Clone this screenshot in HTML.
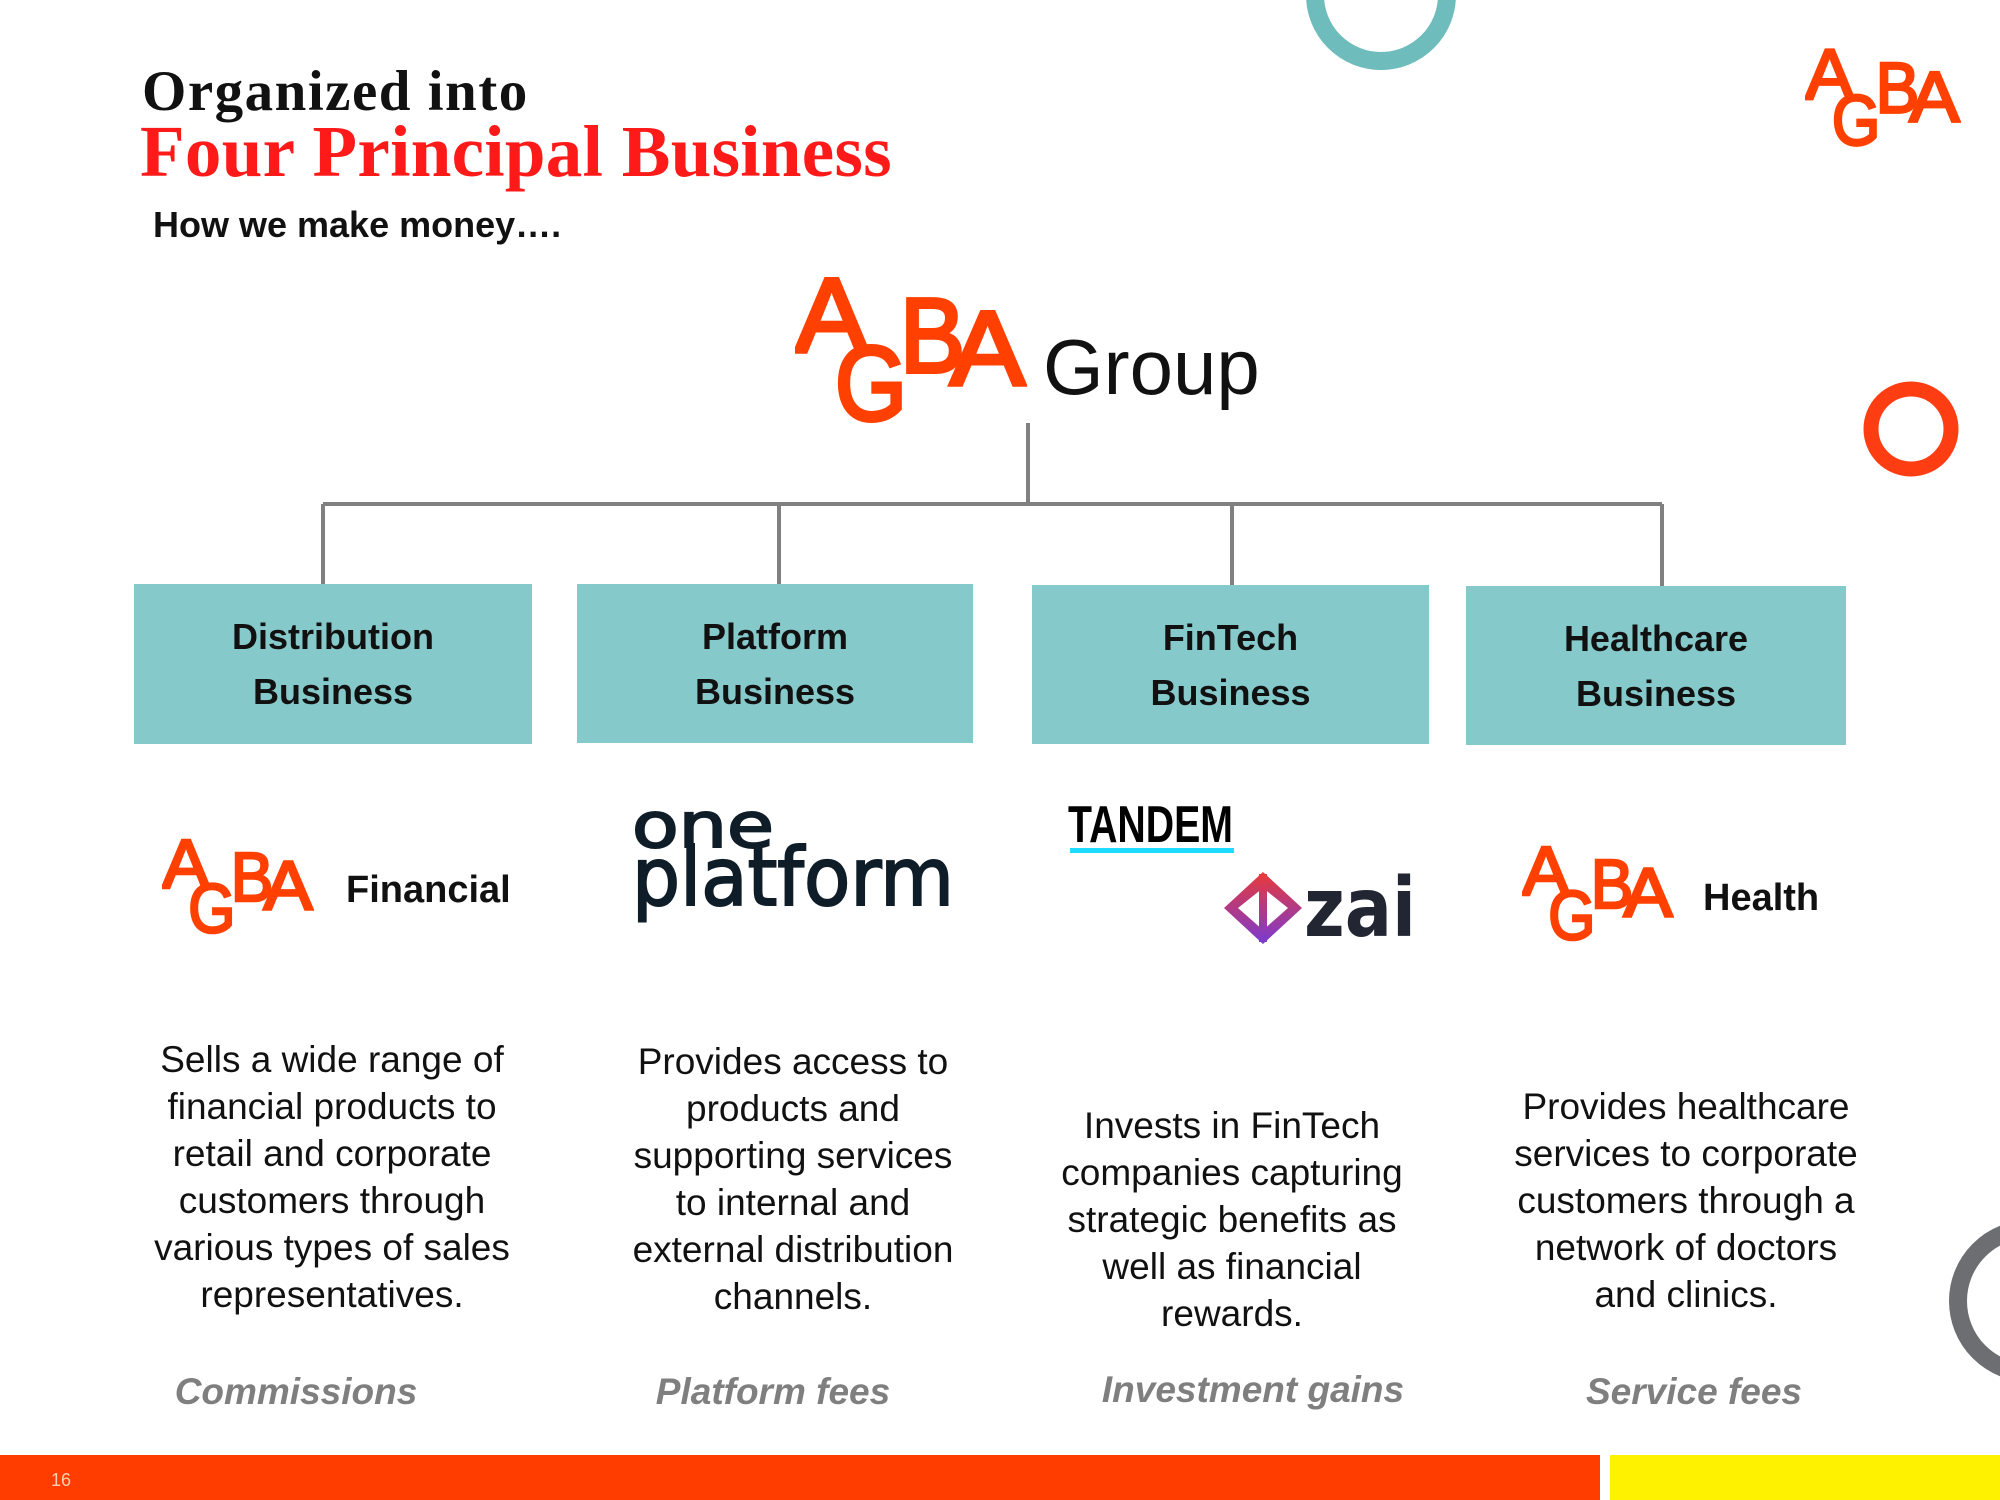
<!DOCTYPE html>
<html><head><meta charset="utf-8"><style>
body{margin:0;width:2000px;height:1500px;position:relative;overflow:hidden;background:#fff;font-family:"Liberation Sans",sans-serif}
.a{position:absolute}
.box{position:absolute;background:#86C9CB;display:flex;align-items:center;justify-content:center;text-align:center;font-weight:bold;font-size:36px;line-height:55px;color:#111}
.desc{position:absolute;width:460px;text-align:center;font-size:37px;line-height:47px;color:#111;white-space:nowrap}
.fee{position:absolute;width:420px;text-align:center;font-size:37px;font-weight:bold;font-style:italic;color:#7f7f7f}
</style></head><body>
<svg class="a" style="left:0;top:0" width="2000" height="1500">
<circle cx="1381" cy="-5" r="66" fill="none" stroke="#6fbcbc" stroke-width="18"/>
<circle cx="1911" cy="429" r="40" fill="none" stroke="#ff3d12" stroke-width="15"/>
<circle cx="2030" cy="1301" r="72" fill="none" stroke="#6d6e71" stroke-width="18"/>
<g stroke="#808080" stroke-width="4" fill="none">
<line x1="1028" y1="423" x2="1028" y2="504"/>
<line x1="323" y1="504" x2="1662" y2="504"/>
<line x1="323" y1="504" x2="323" y2="585"/>
<line x1="779" y1="504" x2="779" y2="585"/>
<line x1="1232" y1="504" x2="1232" y2="585"/>
<line x1="1662" y1="504" x2="1662" y2="587"/>
</g>
<rect x="0" y="1455" width="1600" height="45" fill="#ff3d00"/>
<rect x="1610" y="1455" width="390" height="45" fill="#fff200"/>
<text x="51" y="1486" font-size="18" fill="#ffd0b0" font-family="Liberation Sans">16</text>
</svg>

<div class="a" style="left:142px;top:62px;font-family:'Liberation Serif',serif;font-weight:bold;font-size:57px;line-height:60px;letter-spacing:1.5px;color:#111">Organized into</div>
<div class="a" style="left:140px;top:113px;font-family:'Liberation Serif',serif;font-weight:bold;font-size:73px;line-height:78px;letter-spacing:0.3px;color:#ff1a1a">Four Principal Business</div>
<div class="a" style="left:153px;top:204px;font-weight:bold;font-size:36px;color:#111">How we make money….</div>

<svg class="a" style="left:795px;top:272px" width="232" height="152" viewBox="0 0 232 152">
<g fill="#ff4000" font-family="Liberation Sans" stroke="#ff4000" stroke-width="4">
<text x="0" y="80" font-size="106" textLength="73" lengthAdjust="spacingAndGlyphs">A</text>
<text x="40" y="148" font-size="106" textLength="72" lengthAdjust="spacingAndGlyphs">G</text>
<text x="105" y="100" font-size="106" textLength="65" lengthAdjust="spacingAndGlyphs">B</text>
<text x="155" y="113" font-size="106" textLength="75" lengthAdjust="spacingAndGlyphs">A</text>
</g></svg>
<div class="a" style="left:1043px;top:322px;font-size:78px;line-height:90px;color:#111">Group</div>

<svg class="a" style="left:1805px;top:45px" width="156" height="103" viewBox="0 0 232 152">
<g fill="#ff4000" font-family="Liberation Sans" stroke="#ff4000" stroke-width="4">
<text x="0" y="80" font-size="106" textLength="73" lengthAdjust="spacingAndGlyphs">A</text>
<text x="40" y="148" font-size="106" textLength="72" lengthAdjust="spacingAndGlyphs">G</text>
<text x="105" y="100" font-size="106" textLength="65" lengthAdjust="spacingAndGlyphs">B</text>
<text x="155" y="113" font-size="106" textLength="75" lengthAdjust="spacingAndGlyphs">A</text>
</g></svg>

<div class="box" style="left:134px;top:584px;width:398px;height:160px">Distribution<br>Business</div>
<div class="box" style="left:577px;top:584px;width:396px;height:159px">Platform<br>Business</div>
<div class="box" style="left:1032px;top:585px;width:397px;height:159px">FinTech<br>Business</div>
<div class="box" style="left:1466px;top:586px;width:380px;height:159px">Healthcare<br>Business</div>

<svg class="a" style="left:162px;top:835px" width="152" height="101" viewBox="0 0 232 152">
<g fill="#ff4000" font-family="Liberation Sans" stroke="#ff4000" stroke-width="4">
<text x="0" y="80" font-size="106" textLength="73" lengthAdjust="spacingAndGlyphs">A</text>
<text x="40" y="148" font-size="106" textLength="72" lengthAdjust="spacingAndGlyphs">G</text>
<text x="105" y="100" font-size="106" textLength="65" lengthAdjust="spacingAndGlyphs">B</text>
<text x="155" y="113" font-size="106" textLength="75" lengthAdjust="spacingAndGlyphs">A</text>
</g></svg>
<div class="a" style="left:346px;top:869px;font-weight:bold;font-size:38px;color:#111">Financial</div>

<svg class="a" style="left:1522px;top:842px" width="152" height="101" viewBox="0 0 232 152">
<g fill="#ff4000" font-family="Liberation Sans" stroke="#ff4000" stroke-width="4">
<text x="0" y="80" font-size="106" textLength="73" lengthAdjust="spacingAndGlyphs">A</text>
<text x="40" y="148" font-size="106" textLength="72" lengthAdjust="spacingAndGlyphs">G</text>
<text x="105" y="100" font-size="106" textLength="65" lengthAdjust="spacingAndGlyphs">B</text>
<text x="155" y="113" font-size="106" textLength="75" lengthAdjust="spacingAndGlyphs">A</text>
</g></svg>
<div class="a" style="left:1703px;top:877px;font-weight:bold;font-size:38px;color:#111">Health</div>

<svg class="a" style="left:620px;top:790px" width="820" height="170">
<g fill="#0f1d28" font-family="DejaVu Sans" stroke="#0f1d28" stroke-width="2">
<text x="12" y="57" font-size="62" textLength="142" lengthAdjust="spacingAndGlyphs">one</text>
<text x="12" y="115" font-size="80" textLength="322" lengthAdjust="spacingAndGlyphs">platform</text>
</g>
<text x="448" y="52" font-size="52" font-weight="bold" font-family="Liberation Sans" fill="#000" textLength="165" lengthAdjust="spacingAndGlyphs">TANDEM</text>
<rect x="450" y="58" width="164" height="5" fill="#1fdcff"/>
<defs><linearGradient id="g" x1="0" y1="0" x2="0" y2="1"><stop offset="0" stop-color="#e83a3a"/><stop offset="1" stop-color="#7a3bd0"/></linearGradient></defs>
<path d="M643 82 L682 118 L643 154 L604 118 Z M643 98 L618 118 L643 140 L668 118 Z" fill="url(#g)" fill-rule="evenodd"/>
<rect x="639" y="84" width="8" height="68" fill="url(#g)"/>
<text x="684" y="146" font-size="82" font-weight="bold" font-family="DejaVu Sans" fill="#222633" textLength="112" lengthAdjust="spacingAndGlyphs">zai</text>
</svg>

<div class="desc" style="left:102px;top:1036px">Sells a wide range of<br>financial products to<br>retail and corporate<br>customers through<br>various types of sales<br>representatives.</div>
<div class="desc" style="left:563px;top:1038px">Provides access to<br>products and<br>supporting services<br>to internal and<br>external distribution<br>channels.</div>
<div class="desc" style="left:1002px;top:1102px">Invests in FinTech<br>companies capturing<br>strategic benefits as<br>well as financial<br>rewards.</div>
<div class="desc" style="left:1456px;top:1083px">Provides healthcare<br>services to corporate<br>customers through a<br>network of doctors<br>and clinics.</div>

<div class="fee" style="left:86px;top:1371px">Commissions</div>
<div class="fee" style="left:563px;top:1371px">Platform fees</div>
<div class="fee" style="left:1043px;top:1369px">Investment gains</div>
<div class="fee" style="left:1484px;top:1371px">Service fees</div>
</body></html>
